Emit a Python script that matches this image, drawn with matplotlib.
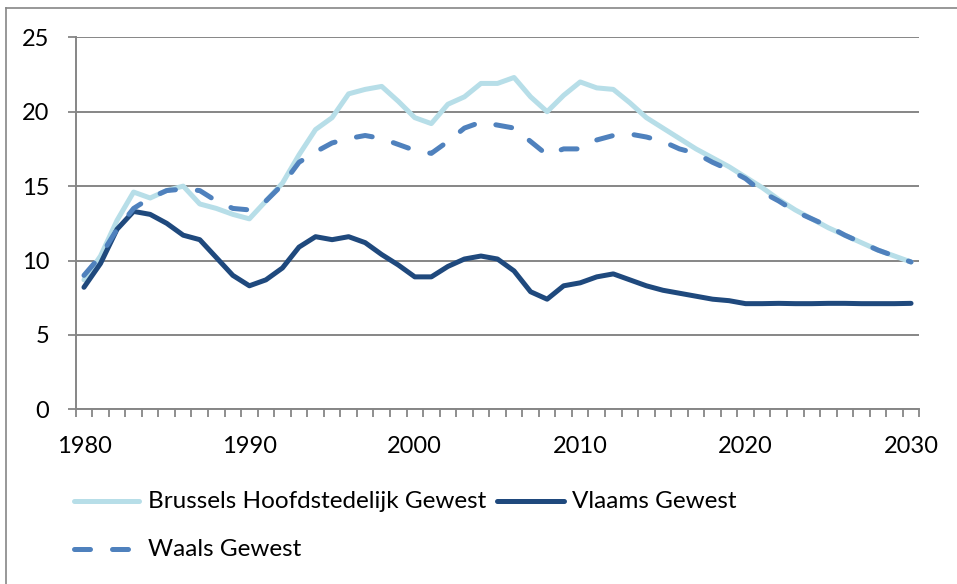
import matplotlib
matplotlib.use("Agg")
import matplotlib.pyplot as plt
from matplotlib.lines import Line2D
import numpy as np

years = list(range(1980, 2031))
tick_labels = ["1980", "1990", "2000", "2010", "2020", "2030"]

brussels = [8.7, 10.3, 12.7, 14.6, 14.2, 14.7, 15.0, 13.8, 13.5, 13.1,
            12.8, 14.0, 15.2, 17.1, 18.8, 19.6, 21.2, 21.5, 21.7, 20.7,
            19.6, 19.2, 20.5, 21.0, 21.9, 21.9, 22.3, 21.0, 20.0, 21.1,
            22.0, 21.6, 21.5, 20.6, 19.6, 18.9, 18.2, 17.5, 16.9, 16.3,
            15.6, 14.9, 14.1, 13.4, 12.8, 12.2, 11.7, 11.2, 10.7, 10.3,
            9.9]
vlaams = [8.2, 9.8, 12.1, 13.3, 13.1, 12.5, 11.7, 11.4, 10.2, 9.0,
          8.3, 8.7, 9.5, 10.9, 11.6, 11.4, 11.6, 11.2, 10.4, 9.7,
          8.9, 8.9, 9.6, 10.1, 10.3, 10.1, 9.3, 7.9, 7.4, 8.3,
          8.5, 8.9, 9.1, 8.7, 8.3, 8.0, 7.8, 7.6, 7.4, 7.3,
          7.1, 7.1, 7.12, 7.1, 7.1, 7.12, 7.12, 7.1, 7.1, 7.1,
          7.12]
waals = [9.0, 10.3, 12.1, 13.5, 14.2, 14.7, 14.8, 14.7, 14.0, 13.5,
         13.4, 14.0, 15.1, 16.6, 17.3, 17.9, 18.2, 18.4, 18.2, 17.8,
         17.4, 17.2, 18.0, 18.9, 19.3, 19.1, 18.9, 18.0, 17.1, 17.5,
         17.5, 18.1, 18.4, 18.5, 18.3, 18.0, 17.5, 17.2, 16.6, 16.1,
         15.5, 14.6, 14.0, 13.3, 12.8, 12.3, 11.7, 11.2, 10.7, 10.3,
         9.9]

names = ["Brussels Hoofdstedelijk Gewest", "Vlaams Gewest", "Waals Gewest"]
c_bru = "#B7DEE8"
c_vla = "#1F497D"
c_waa = "#4F81BD"
grid_c = "#868686"

plt.rcParams['font.family'] = ['Lato', 'DejaVu Sans']

W, H = 957, 584
fig = plt.figure(figsize=(W / 100, H / 100), dpi=100)
ax = fig.add_axes([75.7 / W, 1 - 409.3 / H, (919.3 - 75.7) / W, (409.3 - 37.3) / H])

x = np.arange(len(years))
lw = 3.6
dash = (3.2, 4.4)
ax.plot(x, brussels, color=c_bru, lw=lw, solid_capstyle='round', solid_joinstyle='round', zorder=3)
ax.plot(x, vlaams, color=c_vla, lw=lw, solid_capstyle='round', solid_joinstyle='round', zorder=4)
ax.plot(x, waals, color=c_waa, lw=lw, dashes=dash, dash_capstyle='round', zorder=5)

ax.set_xlim(-0.5, len(years) - 0.5)
ax.set_ylim(0, 25)
ax.set_yticks([0, 5, 10, 15, 20, 25])
ax.yaxis.grid(True, color=grid_c, lw=1.4)
ax.set_axisbelow(True)

label_pos = [years.index(int(t)) for t in tick_labels]
ax.set_xticks(label_pos)
ax.set_xticklabels(tick_labels)
ax.set_xticks(np.arange(-0.5, len(years)), minor=True)
ax.tick_params(axis='x', which='major', length=0, pad=19, labelsize=17)
ax.tick_params(axis='x', which='minor', length=6, width=1.3, color=grid_c, direction='out')
ax.tick_params(axis='y', length=6, width=1.3, color=grid_c, pad=13, labelsize=17)

for s in ['top', 'right']:
    ax.spines[s].set_visible(False)
for s in ['left', 'bottom']:
    ax.spines[s].set_color(grid_c)
    ax.spines[s].set_linewidth(1.4)

# outer frame
fig.add_artist(Line2D([6 / W, 6 / W], [0, 1 - 8 / H], transform=fig.transFigure, color=grid_c, lw=1.2))
fig.add_artist(Line2D([6 / W, 1], [1 - 8 / H, 1 - 8 / H], transform=fig.transFigure, color=grid_c, lw=1.2))

# legend
def leg(x0, x1, tx, y, color, text, dashed=False):
    kw = dict(transform=fig.transFigure, color=color, lw=lw)
    if dashed:
        ln = Line2D([x0 / W, x1 / W], [1 - y / H, 1 - y / H], dashes=dash, dash_capstyle='round', **kw)
    else:
        ln = Line2D([x0 / W, x1 / W], [1 - y / H, 1 - y / H], solid_capstyle='round', **kw)
    fig.add_artist(ln)
    fig.text(tx / W, 1 - y / H, text, fontsize=17.5, va='center', ha='left')

leg(74, 139, 148, 501, c_bru, names[0])
leg(497, 564, 572, 501, c_vla, names[1])
leg(74, 139, 148, 549, c_waa, names[2], dashed=True)

fig.savefig("out.png", dpi=100)
